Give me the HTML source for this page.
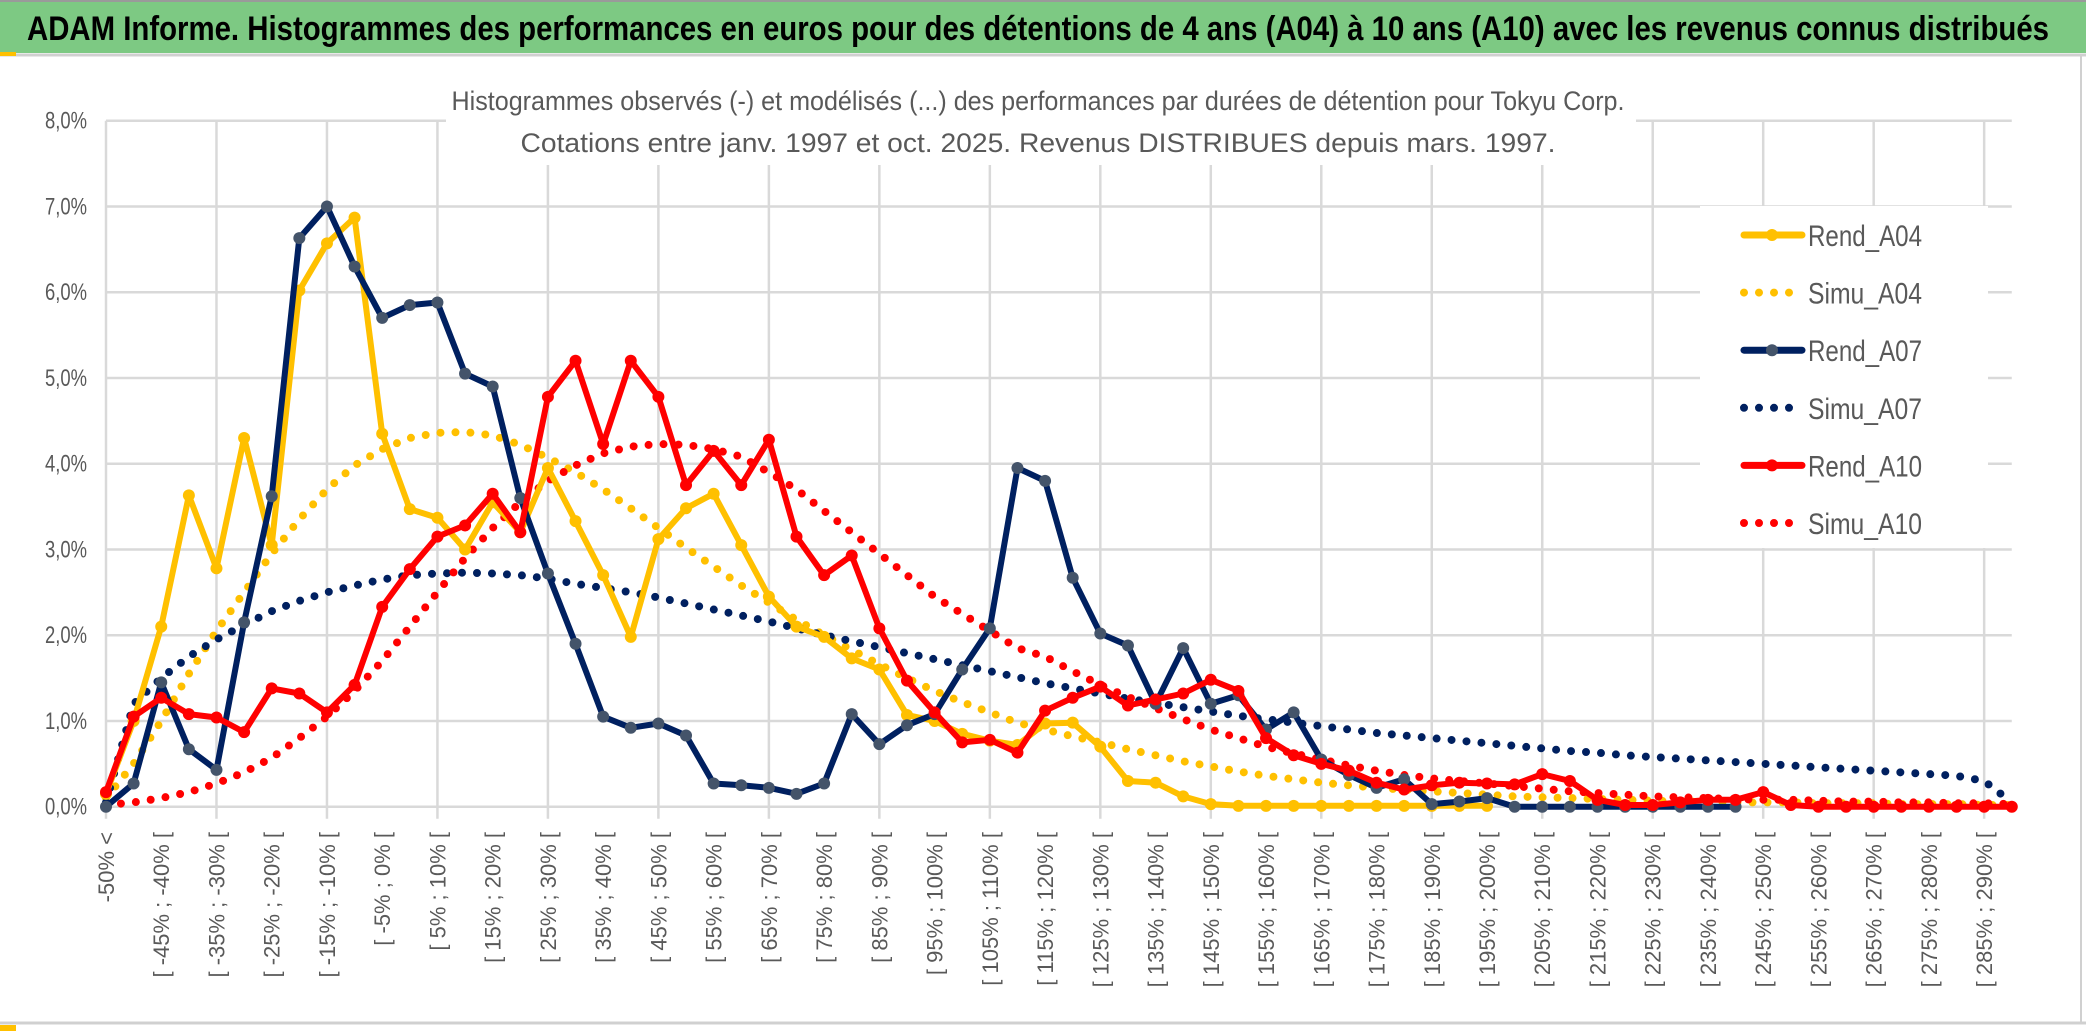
<!DOCTYPE html>
<html><head><meta charset="utf-8"><style>
html,body{margin:0;padding:0;background:#fff;}
svg{display:block;font-family:"Liberation Sans Narrow","Liberation Sans",sans-serif;}
</style></head><body>
<svg id="chart" width="2086" height="1033" viewBox="0 0 2086 1033" xmlns="http://www.w3.org/2000/svg">
<rect x="0" y="0" width="2086" height="1033" fill="#fff"/>
<line x1="0" y1="1" x2="2086" y2="1" stroke="#9a9a9a" stroke-width="2"/>
<rect x="0" y="2" width="2086" height="51" fill="#7DC983"/>
<text x="27" y="40" font-size="34" font-weight="bold" fill="#000" textLength="2022" lengthAdjust="spacingAndGlyphs">ADAM Informe. Histogrammes des performances en euros pour des détentions de 4 ans (A04) à 10 ans (A10) avec les revenus connus distribués</text>
<line x1="0" y1="55" x2="2086" y2="55" stroke="#d0d0d0" stroke-width="3"/>
<rect x="0" y="52" width="16" height="4" fill="#FFC000"/>
<line x1="2081" y1="56" x2="2081" y2="1022" stroke="#d0d0d0" stroke-width="2"/>
<line x1="0" y1="1023" x2="2086" y2="1023" stroke="#d0d0d0" stroke-width="3"/>
<rect x="0" y="1025" width="16" height="6" fill="#FFC000"/>
<rect x="2064" y="968" width="22" height="65" fill="#FFC000" opacity="0.0"/>
<g id="grid"></g>
<rect x="446" y="70" width="1190" height="95" fill="#fff"/>
<text x="1038" y="110" font-size="27" fill="#595959" text-anchor="middle" textLength="1173" lengthAdjust="spacingAndGlyphs">Histogrammes observés (-) et modélisés (...) des performances par durées de détention pour Tokyu Corp.</text>
<text x="1038" y="152" font-size="27" fill="#595959" text-anchor="middle" textLength="1035" lengthAdjust="spacingAndGlyphs">Cotations entre janv. 1997 et oct. 2025. Revenus DISTRIBUES depuis mars. 1997.</text>
<g id="yaxis"></g>
<g id="xaxis"></g>
<g id="series"></g>
<g id="legend"></g>
</svg>
<script>
const categories = [];
(function(){ categories.push("-50% <"); for(let k=1;k<70;k++){ categories.push("[ "+(-55+5*k)+"% ; "+(-50+5*k)+"% ["); } })();
const yTicks = [0,1,2,3,4,5,6,7,8];
const yTickLabels = ["0,0%","1,0%","2,0%","3,0%","4,0%","5,0%","6,0%","7,0%","8,0%"];
const rendA04 = [0.15,1.0,2.1,3.63,2.78,4.3,3.05,6.02,6.57,6.87,4.35,3.47,3.37,3.0,3.55,3.2,3.95,3.33,2.7,1.98,3.12,3.48,3.65,3.05,2.45,2.1,1.98,1.73,1.6,1.07,1.0,0.85,0.77,0.72,0.97,0.98,0.7,0.3,0.28,0.12,0.03,0.01,0.01,0.01,0.01,0.01,0.01,0.01,0.01,0.01,0.01];
const simuA04 = [0.1,0.5,1.0,1.55,2.05,2.5,2.95,3.35,3.7,3.98,4.17,4.3,4.36,4.37,4.33,4.22,4.07,3.9,3.7,3.48,3.25,3.02,2.8,2.58,2.38,2.18,2.0,1.83,1.66,1.5,1.35,1.22,1.1,0.98,0.9,0.82,0.75,0.67,0.6,0.53,0.47,0.41,0.36,0.32,0.28,0.25,0.22,0.2,0.18,0.16,0.14,0.12,0.11,0.1,0.09,0.08,0.07,0.06,0.06,0.05,0.05,0.05,0.04,0.04,0.04,0.03,0.03,0.03,0.02,0.02];
const rendA07 = [0.0,0.27,1.45,0.67,0.43,2.15,3.62,6.63,7.0,6.3,5.7,5.85,5.88,5.05,4.9,3.6,2.72,1.9,1.05,0.92,0.97,0.83,0.27,0.25,0.22,0.15,0.27,1.08,0.73,0.95,1.08,1.6,2.08,3.95,3.8,2.67,2.02,1.88,1.2,1.85,1.2,1.3,0.9,1.1,0.55,0.37,0.22,0.32,0.03,0.06,0.1,0,0,0,0,0,0,0,0,0];
const simuA07 = [0.05,1.2,1.5,1.75,1.95,2.12,2.28,2.4,2.5,2.58,2.65,2.7,2.72,2.73,2.72,2.7,2.66,2.6,2.55,2.5,2.44,2.37,2.3,2.23,2.16,2.08,2.0,1.93,1.86,1.79,1.72,1.65,1.58,1.51,1.44,1.38,1.32,1.26,1.21,1.16,1.11,1.06,1.02,0.98,0.94,0.9,0.86,0.83,0.8,0.77,0.74,0.71,0.68,0.65,0.63,0.6,0.58,0.56,0.54,0.52,0.5,0.48,0.46,0.44,0.42,0.4,0.38,0.36,0.3,0.05];
const rendA10 = [0.17,1.05,1.27,1.08,1.04,0.87,1.38,1.32,1.1,1.42,2.33,2.77,3.15,3.28,3.65,3.2,4.78,5.2,4.23,5.2,4.78,3.75,4.15,3.75,4.28,3.15,2.7,2.93,2.08,1.47,1.1,0.75,0.78,0.63,1.12,1.27,1.4,1.18,1.25,1.32,1.48,1.35,0.8,0.6,0.5,0.42,0.28,0.2,0.25,0.28,0.27,0.26,0.38,0.3,0.08,0.02,0.02,0.05,0.08,0.08,0.17,0.02,0,0,0,0,0,0,0,0];
const simuA10 = [0.02,0.05,0.1,0.17,0.27,0.4,0.57,0.8,1.05,1.35,1.7,2.1,2.5,2.9,3.25,3.55,3.8,3.98,4.12,4.2,4.23,4.22,4.17,4.08,3.9,3.7,3.45,3.2,2.95,2.7,2.45,2.25,2.05,1.85,1.75,1.58,1.42,1.28,1.15,1.02,0.9,0.8,0.7,0.62,0.55,0.48,0.42,0.37,0.33,0.3,0.27,0.24,0.21,0.18,0.16,0.14,0.12,0.11,0.1,0.09,0.08,0.08,0.07,0.06,0.06,0.05,0.05,0.04,0.04,0.03];

const NS="http://www.w3.org/2000/svg";
const X0=106, DX=27.62, Y0=806.7, DY=85.75;
function xs(i){return X0+DX*i;}
function ys(v){return Y0-DY*v;}
function mk(tag,attrs,parent){const e=document.createElementNS(NS,tag);for(const k in attrs)e.setAttribute(k,attrs[k]);parent.appendChild(e);return e;}

const grid=document.getElementById('grid');
yTicks.forEach(t=>{
  const l=mk('line',{x1:X0,x2:xs(69),y1:ys(t),y2:ys(t),stroke:'#d9d9d9','stroke-width':2.5},grid);
  
  
});
for(let i=0;i<categories.length;i+=4){
  const l=mk('line',{x1:xs(i),x2:xs(i),y1:ys(8),y2:Y0+12,stroke:'#d9d9d9','stroke-width':2.5},grid);
  
  
}
const ya=document.getElementById('yaxis');
yTicks.forEach((t,k)=>{
  const e=mk('text',{x:87,y:ys(t)+8,'font-size':24,fill:'#595959','text-anchor':'end',textLength:42,lengthAdjust:'spacingAndGlyphs'},ya);
  e.textContent=yTickLabels[k];
  
  
});
const xa=document.getElementById('xaxis');
categories.forEach((c,i)=>{
  if(i%2) return;
  const x=xs(i)+8, y=832;
  const e=mk('text',{x:x,y:y,'font-size':22,fill:'#595959','text-anchor':'end',transform:'rotate(-90 '+x+' '+y+')','font-family':'"Liberation Sans",sans-serif'},xa);
  e.textContent=c;
  
  
});
const sg=document.getElementById('series');
function pts(arr){return arr.map((v,i)=>xs(i).toFixed(1)+','+ys(v).toFixed(1)).join(' ');}
function dotted(arr,color,name){
  const p=mk('polyline',{points:pts(arr),fill:'none',stroke:color,'stroke-width':8,'stroke-linecap':'round','stroke-dasharray':'0 15'},sg);
  
  
}
function solid(arr,color,mcol,name){
  const g=mk('g',{},sg);
  
  
  mk('polyline',{points:pts(arr),fill:'none',stroke:color,'stroke-width':6,'stroke-linejoin':'round'},g);
  arr.forEach((v,i)=>{
    const c=mk('circle',{cx:xs(i),cy:ys(v),r:6,fill:mcol},g);
    
    
  });
}
dotted(simuA04,'#FFC000','simu-a04-line');
dotted(simuA07,'#002060','simu-a07-line');
dotted(simuA10,'#FF0000','simu-a10-line');
solid(rendA04,'#FFC000','#FFC000','rend-a04-line');
solid(rendA07,'#002060','#44546A','rend-a07-line');
solid(rendA10,'#FF0000','#FF0000','rend-a10-line');

const lg=document.getElementById('legend');
mk('rect',{x:1700,y:206,width:288,height:342,fill:'#fff'},lg);
const entries=[["Rend_A04",'#FFC000','#FFC000',true],["Simu_A04",'#FFC000','',false],["Rend_A07",'#002060','#44546A',true],["Simu_A07",'#002060','',false],["Rend_A10",'#FF0000','#FF0000',true],["Simu_A10",'#FF0000','',false]];
entries.forEach((e,k)=>{
  const y=235+57.6*k;
  const g=mk('g',{},lg);
  
  
  if(e[3]){
    mk('line',{x1:1744,x2:1802,y1:y,y2:y,stroke:e[1],'stroke-width':7,'stroke-linecap':'round'},g);
    mk('circle',{cx:1772,cy:y,r:6,fill:e[2]},g);
  } else {
    mk('line',{x1:1744,x2:1796,y1:y,y2:y,stroke:e[1],'stroke-width':8,'stroke-linecap':'round','stroke-dasharray':'0 15'},g);
  }
  const t=mk('text',{x:1808,y:y+11,'font-size':30,fill:'#595959',textLength:114,lengthAdjust:'spacingAndGlyphs'},g);
  t.textContent=e[0];
});
</script>
</body></html>
